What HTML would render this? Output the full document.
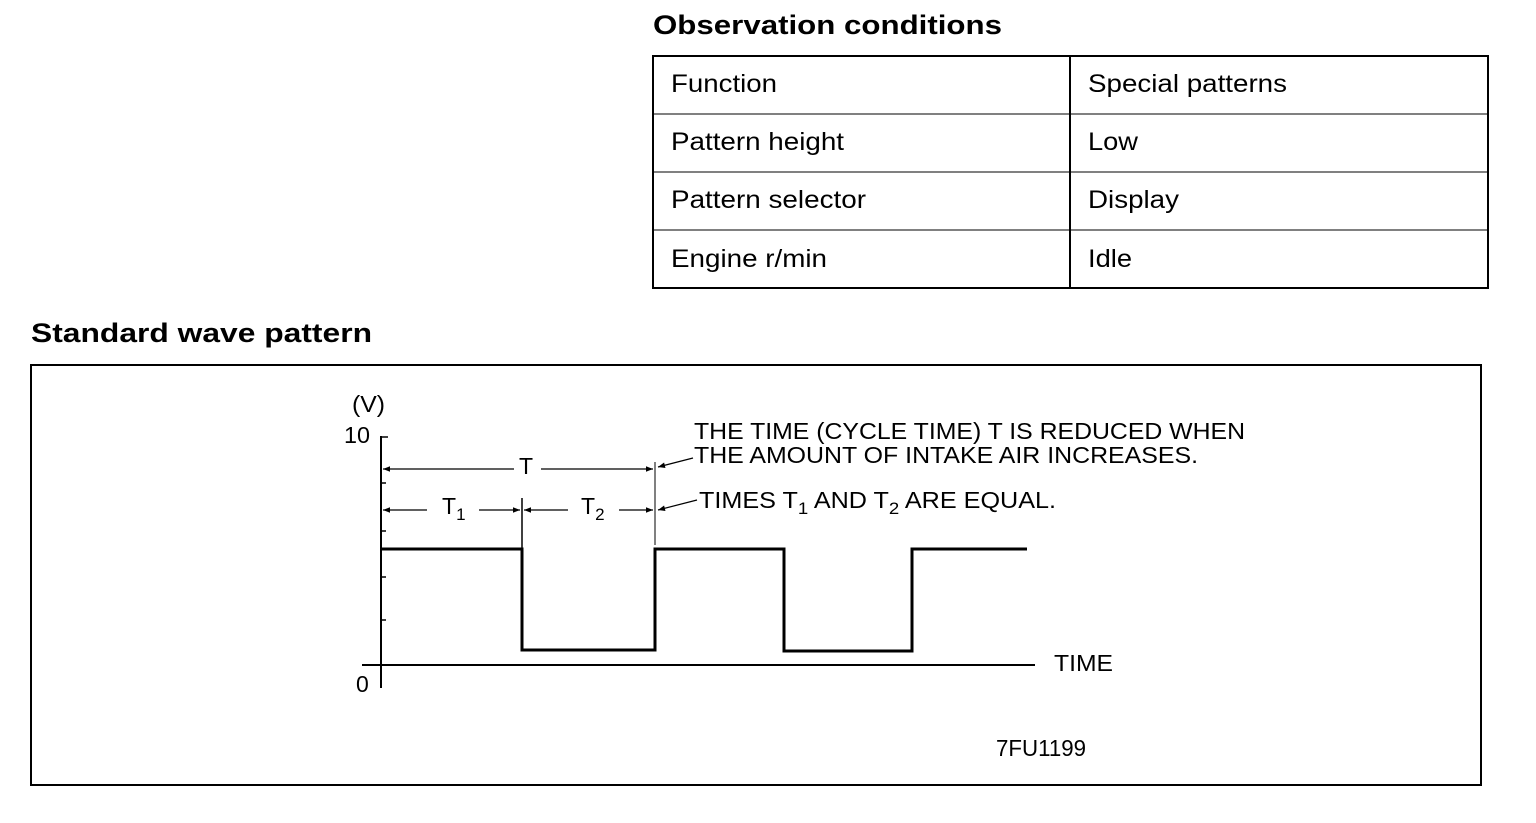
<!DOCTYPE html>
<html><head><style>
body{margin:0;background:#fff;}
svg text{font-family:"Liberation Sans",Arial,sans-serif;fill:#000;}
</style></head><body>
<svg width="1536" height="818" viewBox="0 0 1536 818" xmlns="http://www.w3.org/2000/svg">
<defs><marker id="a" viewBox="0 0 10 10" refX="10" refY="5" markerWidth="12" markerHeight="7" orient="auto-start-reverse" markerUnits="userSpaceOnUse"><path d="M0,1 L10,5 L0,9z" fill="#000"/></marker></defs>
<text x="653" y="34" font-size="27" font-weight="bold" textLength="349" lengthAdjust="spacingAndGlyphs">Observation  conditions</text>
<g stroke="#000" stroke-width="2" fill="none">
<rect x="653" y="56" width="835" height="232"/>
<line x1="1070" y1="56" x2="1070" y2="288"/>
<line x1="653" y1="114" x2="1488" y2="114" stroke-width="1"/>
<line x1="653" y1="172" x2="1488" y2="172" stroke-width="1"/>
<line x1="653" y1="230" x2="1488" y2="230" stroke-width="1"/>
</g>
<g font-size="25" lengthAdjust="spacingAndGlyphs">
<text x="671" y="92" textLength="106" lengthAdjust="spacingAndGlyphs">Function</text><text x="1088" y="92" textLength="199" lengthAdjust="spacingAndGlyphs">Special patterns</text>
<text x="671" y="150" textLength="173" lengthAdjust="spacingAndGlyphs">Pattern height</text><text x="1088" y="150" textLength="50" lengthAdjust="spacingAndGlyphs">Low</text>
<text x="671" y="208" textLength="195" lengthAdjust="spacingAndGlyphs">Pattern selector</text><text x="1088" y="208" textLength="91" lengthAdjust="spacingAndGlyphs">Display</text>
<text x="671" y="267" textLength="156" lengthAdjust="spacingAndGlyphs">Engine r/min</text><text x="1088" y="267" textLength="44" lengthAdjust="spacingAndGlyphs">Idle</text>
</g>
<text x="31" y="342" font-size="27" font-weight="bold" textLength="341" lengthAdjust="spacingAndGlyphs">Standard  wave  pattern</text>
<rect x="31" y="365" width="1450" height="420" fill="none" stroke="#000" stroke-width="2"/>
<g stroke="#000" fill="none">
<line x1="381" y1="436" x2="381" y2="688" stroke-width="2"/>
<line x1="381" y1="437" x2="388" y2="437" stroke-width="1.5"/>
<line x1="381" y1="483" x2="386" y2="483" stroke-width="1.5"/>
<line x1="381" y1="531" x2="386" y2="531" stroke-width="1.5"/>
<line x1="381" y1="577" x2="386" y2="577" stroke-width="1.5"/>
<line x1="381" y1="620" x2="386" y2="620" stroke-width="1.5"/>
<line x1="362" y1="665" x2="1035" y2="665" stroke-width="2"/>
<polyline points="381,549 522,549 522,650 655,650 655,549 784,549 784,651 912,651 912,549 1027,549" stroke-width="3"/>
<line x1="522" y1="498" x2="522" y2="549" stroke-width="1.5"/>
<line x1="655" y1="462" x2="655" y2="545" stroke-width="1"/>
<g stroke-width="1.2">
<line x1="383" y1="469" x2="514" y2="469" marker-start="url(#a)"/>
<line x1="541" y1="469" x2="653" y2="469" marker-end="url(#a)"/>
<line x1="383" y1="510" x2="427" y2="510" marker-start="url(#a)"/>
<line x1="479" y1="510" x2="520" y2="510" marker-end="url(#a)"/>
<line x1="524" y1="510" x2="568" y2="510" marker-start="url(#a)"/>
<line x1="619" y1="510" x2="653" y2="510" marker-end="url(#a)"/>
<line x1="693" y1="458" x2="658" y2="467" marker-end="url(#a)"/>
<line x1="697" y1="500" x2="658" y2="510" marker-end="url(#a)"/>
</g>
</g>
<g font-size="23">
<text x="352" y="412" textLength="33" lengthAdjust="spacingAndGlyphs">(V)</text>
<text x="344" y="443" textLength="26" lengthAdjust="spacingAndGlyphs">10</text>
<text x="356" y="692">0</text>
<text x="519" y="474">T</text>
<text x="442" y="514">T<tspan font-size="17" dy="6">1</tspan></text>
<text x="581" y="514">T<tspan font-size="17" dy="6">2</tspan></text>
<text x="694" y="439" textLength="551" lengthAdjust="spacingAndGlyphs">THE TIME (CYCLE TIME) T IS REDUCED WHEN</text>
<text x="694" y="463" textLength="504" lengthAdjust="spacingAndGlyphs">THE AMOUNT OF INTAKE AIR INCREASES.</text>
<text x="699" y="508" textLength="357" lengthAdjust="spacingAndGlyphs">TIMES T<tspan font-size="17" dy="6">1</tspan><tspan dy="-6"> AND T</tspan><tspan font-size="17" dy="6">2</tspan><tspan dy="-6"> ARE EQUAL.</tspan></text>
<text x="1054" y="671" textLength="59" lengthAdjust="spacingAndGlyphs">TIME</text>
<text x="996" y="756" textLength="90" lengthAdjust="spacingAndGlyphs">7FU1199</text>
</g>
</svg>
</body></html>
